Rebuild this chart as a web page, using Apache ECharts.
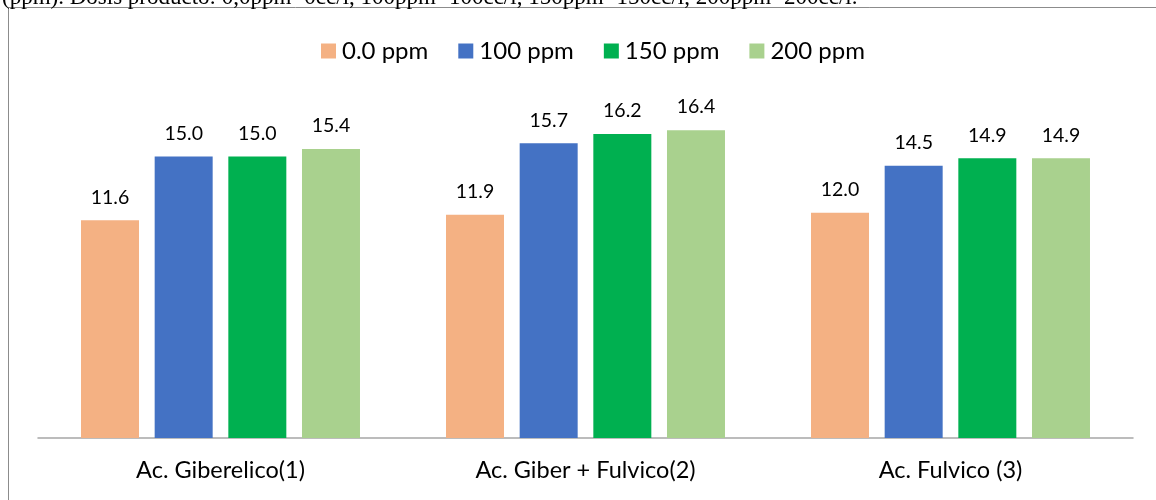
<!DOCTYPE html>
<html>
<head>
<meta charset="utf-8">
<script src="https://cdn.jsdelivr.net/npm/echarts@6/dist/echarts.min.js"></script>
<style>
  html, body { margin: 0; padding: 0; background: #fff; }
  #chart { width: 1156px; height: 500px; }
</style>
</head>
<body>
<div id="chart"></div>
<script>
const categories = ['Ac. Giberelico(1)', 'Ac. Giber + Fulvico(2)', 'Ac. Fulvico (3)']
const seriesNames = ['0.0 ppm', '100 ppm', '150 ppm', '200 ppm']
const dose0 = [11.6, 11.9, 12.0]
const dose100 = [15.0, 15.7, 14.5]
const dose150 = [15.0, 16.2, 14.9]
const dose200 = [15.4, 16.4, 14.9]
const colors = ['#F4B183', '#4472C4', '#00B050', '#A9D18E']
const caption = '(ppm). Dosis producto: 0,0ppm=0cc/l, 100ppm=100cc/l, 150ppm=150cc/l, 200ppm=200cc/l.'

const font = 'Lato, "Open Sans", sans-serif'
const values = [dose0, dose100, dose150, dose200]

const option = {
  animation: false,
  graphic: [
    {
      type: 'rect',
      shape: { x: 8.5, y: 7.5, width: 1300, height: 700 },
      style: { fill: null, stroke: '#8c8c8c', lineWidth: 1 },
      silent: true,
    },
    {
      type: 'text',
      style: {
        x: 2,
        y: -14,
        text: caption,
        font: '23px "Liberation Serif", serif',
        fill: '#000',
      },
    },
  ],
  legend: {
    top: 34,
    left: 316,
    itemWidth: 15,
    itemHeight: 15,
    itemGap: 30,
    icon: 'rect',
    textStyle: { fontFamily: font, fontSize: 24, color: '#000', padding: [0, 0, 0, 1] },
    data: seriesNames,
  },
  grid: {
    left: 38,
    right: 23,
    top: 62.6,
    bottom: 62,
  },
  xAxis: {
    type: 'category',
    data: categories,
    axisLine: { lineStyle: { color: '#a6a6a6', width: 1.5 } },
    axisTick: { show: false },
    axisLabel: { fontFamily: font, fontSize: 23.5, color: '#000', margin: 20 },
  },
  yAxis: {
    type: 'value',
    min: 0,
    max: 20,
    show: false,
    splitLine: { show: false },
  },
  series: seriesNames.map((name, i) => ({
    name,
    type: 'bar',
    data: values[i],
    barWidth: 58,
    barGap: '27%',
    itemStyle: { color: colors[i] },
    label: {
      show: true,
      position: 'top',
      distance: 13,
      formatter: p => p.value.toFixed(1),
      fontFamily: font,
      fontSize: 19.5,
      color: '#000',
    },
  })),
}

const chart = echarts.init(document.getElementById('chart'), null, { renderer: 'canvas' })
chart.setOption(option)
</script>
</body>
</html>
